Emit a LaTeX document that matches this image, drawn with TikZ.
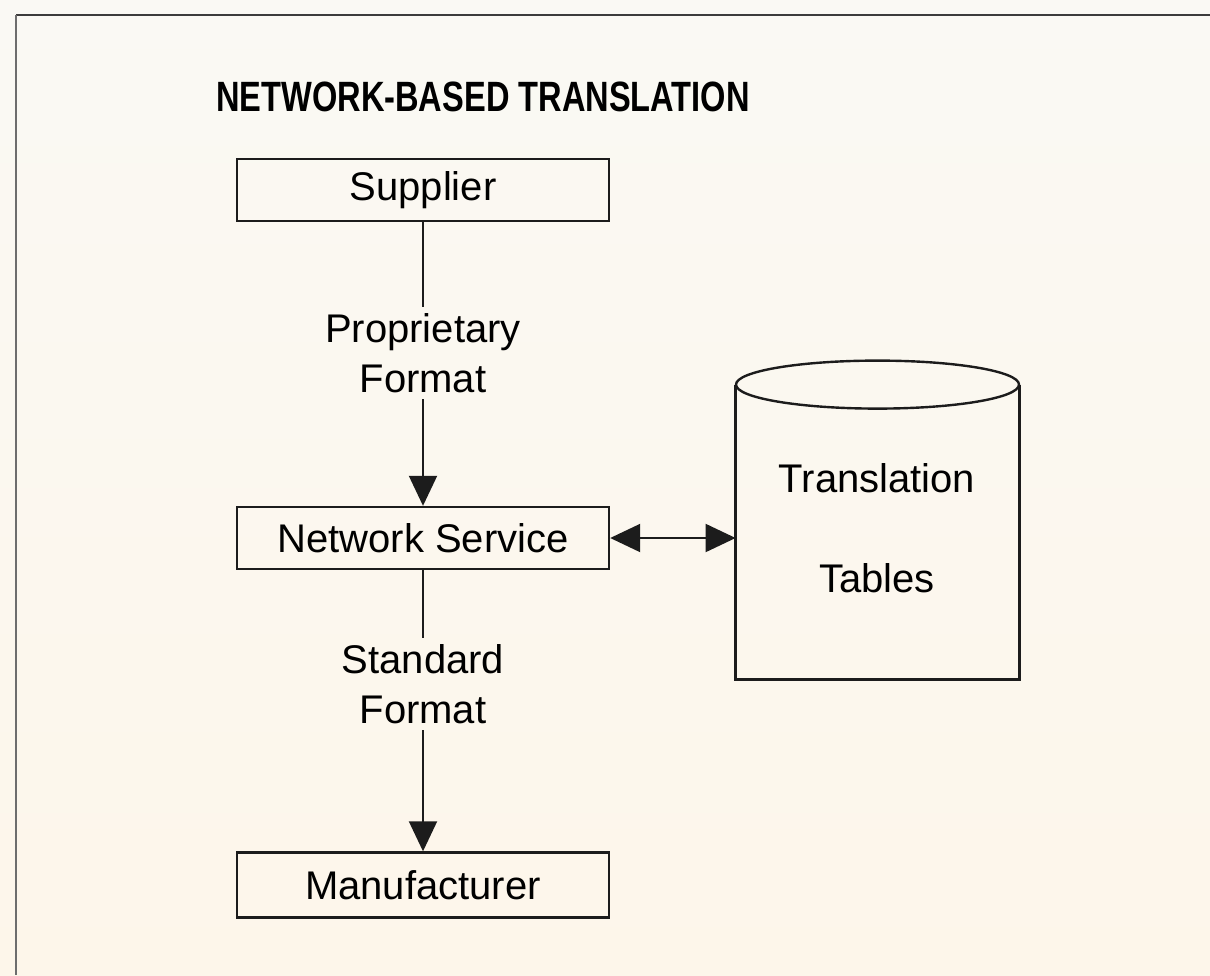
\documentclass[tikz,border=0pt]{standalone}
\usepackage{graphicx}
\usepackage{fontspec}
\setmainfont{Liberation Sans}
\usetikzlibrary{arrows.meta}
\definecolor{paper}{RGB}{250,249,244}
\definecolor{paperwarm}{RGB}{253,246,234}
\definecolor{ink}{RGB}{28,28,28}
\definecolor{rule}{RGB}{60,60,60}
\begin{document}
\begin{tikzpicture}[x=0.5pt,y=-0.5pt,
  box/.style={draw=ink, line width=1.2pt, minimum width=186pt, minimum height=31pt,
              inner sep=0pt, font=\fontsize{20}{23}\selectfont},
  lbl/.style={align=center, inner sep=3pt, font=\fontsize{20}{25}\selectfont},
  link/.style={draw=ink, line width=1pt},
  tip/.tip={Triangle[length=15pt,width=14pt]},
  flow/.style={link, -tip},
  cyl/.style={draw=ink, line width=1.2pt},
]
% page and frame
\useasboundingbox (0,0) rectangle (1210,975);
\shade[top color=paper, bottom color=paperwarm] (0,0) rectangle (1210,975);
\draw[rule, line width=1.4pt] (16,15) -- (1210,15);
\draw[rule!75, line width=0.8pt] (16,15) -- (16,975);

% title
\node[font=\bfseries\fontsize{16.3}{20}\selectfont] (title) at (483,97)
  {\scalebox{1}[1.3]{NETWORK-BASED TRANSLATION}};

% main chain
\node[box] (supplier) at (423,190) {Supplier};
\node[box] (netsvc) at (423,538) {Network Service};
\node[box, minimum height=32.5pt] (maker) at (423,885) {Manufacturer};

\node[lbl] (prop) at (423,353) {Proprietary\\Format};
\node[lbl] (std) at (423,684) {Standard\\Format};

\draw[link] (supplier) -- (prop);
\draw[flow] (prop) -- (netsvc);
\draw[link] (netsvc) -- (std);
\draw[flow] (std) -- (maker);

% translation tables store
\node[minimum width=141.5pt, minimum height=147pt, inner sep=0pt] (tables) at (877.5,532) {};
\draw[cyl] (tables.north west) -- (tables.south west) -- (tables.south east) -- (tables.north east);
\draw[cyl] (tables.north) ellipse [x radius=70.75pt, y radius=12pt];
\node[lbl] (trans) at (877,478) {Translation};
\node[lbl] (tabl) at (877,578) {Tables};

\draw[link, tip-tip] (netsvc.east) -- (netsvc.east -| tables.west);
\end{tikzpicture}
\end{document}
